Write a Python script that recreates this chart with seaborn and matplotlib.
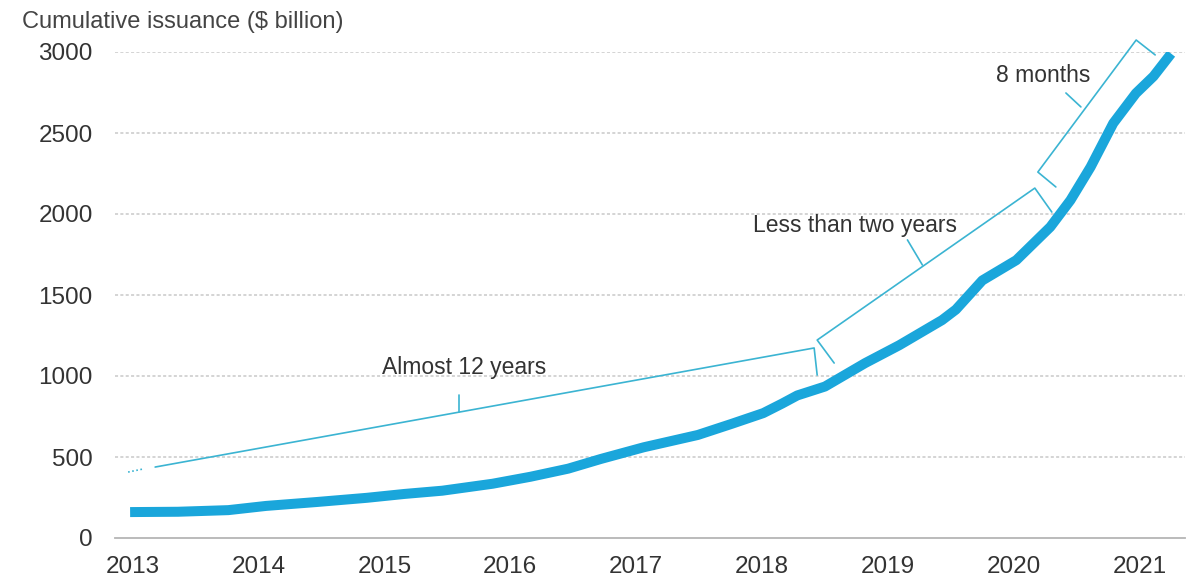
import numpy as np
import pandas as pd
import matplotlib
matplotlib.use("Agg")
import matplotlib.pyplot as plt
import seaborn as sns

# ---- data ----
dates = [2013.12, 2013.50, 2013.90, 2014.20, 2014.60, 2015.00, 2015.30, 2015.60,
         2016.00, 2016.30, 2016.60, 2016.86, 2017.20, 2017.63, 2017.90, 2018.15,
         2018.30, 2018.42, 2018.64, 2018.96, 2019.23, 2019.57, 2019.68, 2019.89,
         2020.16, 2020.43, 2020.59, 2020.75, 2020.93, 2021.11, 2021.25, 2021.39]
issuance = [160, 162, 172, 198, 222, 248, 272, 292,
            335, 378, 428, 488, 560, 636, 705, 771,
            830, 880, 935, 1080, 1190, 1345, 1410, 1590,
            1715, 1920, 2085, 2290, 2560, 2745, 2850, 2990]
year_labels = ["2013", "2014", "2015", "2016", "2017", "2018", "2019", "2020", "2021"]
y_ticks = [0, 500, 1000, 1500, 2000, 2500, 3000]
title = "Cumulative issuance ($ billion)"
notes = ["Almost 12 years", "Less than two years", "8 months"]

df = pd.DataFrame({"date": dates, "issuance": issuance})

sns.set_theme(style="white")
plt.rcParams["font.family"] = ["Liberation Sans", "DejaVu Sans"]

W, H = 1199, 583
fig = plt.figure(figsize=(W / 100, H / 100), dpi=100)
ax = fig.add_axes([115 / W, 1 - 538 / H, (1185 - 115) / W, (538 - 52) / H])

curve_color = "#1AA6DB"
bracket_color = "#3BB4D2"
text_color = "#333333"

sns.lineplot(data=df, x="date", y="issuance", ax=ax, color=curve_color,
             linewidth=7.2, solid_capstyle="butt", zorder=3)

ax.set_xlim(2013.0, 2021.5)
ax.set_ylim(0, 3000)
ax.set_xlabel("")
ax.set_ylabel("")

# y axis
ax.set_yticks(y_ticks)
ax.set_yticklabels([str(v) for v in y_ticks])
ax.tick_params(axis="y", length=0, pad=16, labelsize=17.5, labelcolor=text_color)
for v in y_ticks[1:]:
    ax.axhline(v, color="#c9c9c9", linewidth=1.1, linestyle=(0, (2, 1.5)), zorder=1)

# x axis: quarterly ticks, year labels in first quarter
first = int(year_labels[0])
label_pos = [int(y) + 0.14 for y in year_labels]
ax.set_xticks(label_pos)
ax.set_xticklabels(year_labels)
ax.set_xticks(np.arange(first, 2021.5 + 0.01, 0.25), minor=True)
ax.tick_params(axis="x", which="major", length=0, pad=13, labelsize=17.5, labelcolor=text_color)
ax.tick_params(axis="x", which="minor", length=6, width=1.1, color="#b5b5b5", direction="out")

for s in ["top", "right", "left"]:
    ax.spines[s].set_visible(False)
ax.spines["bottom"].set_color("#b5b5b5")
ax.spines["bottom"].set_linewidth(1.3)

# title
fig.text(22 / W, 1 - 22 / H, title, ha="left", va="center", fontsize=17,
         color="#444444")

# ---- brackets ----
kw = dict(color=bracket_color, linewidth=1.2, clip_on=False, zorder=2)
# bracket 1 (dotted lead-in + line + end tick + middle tick)
ax.plot([2013.104, 2013.223], [407, 426], linestyle=(0, (1, 1.5)), **kw)
ax.plot([2013.319, 2018.554, 2018.578], [438, 1173, 1006], **kw)
ax.plot([2015.733, 2015.733], [778, 883], **kw)
ax.text(2015.77, 1050, notes[0], ha="center", va="center", fontsize=16.5, color=text_color)
# bracket 2
ax.plot([2018.713, 2018.578, 2020.307, 2020.442], [1080, 1222, 2160, 2012], **kw)
ax.plot([2019.414, 2019.295], [1685, 1840], **kw)
ax.text(2018.88, 1931, notes[1], ha="center", va="center", fontsize=16.5, color=text_color)
# bracket 3
ax.plot([2020.474, 2020.331, 2021.112, 2021.263], [2167, 2259, 3074, 2982], **kw)
ax.plot([2020.673, 2020.554], [2661, 2747], **kw)
ax.text(2020.37, 2857, notes[2], ha="center", va="center", fontsize=16.5, color=text_color)

fig.savefig("out.png", dpi=100)
